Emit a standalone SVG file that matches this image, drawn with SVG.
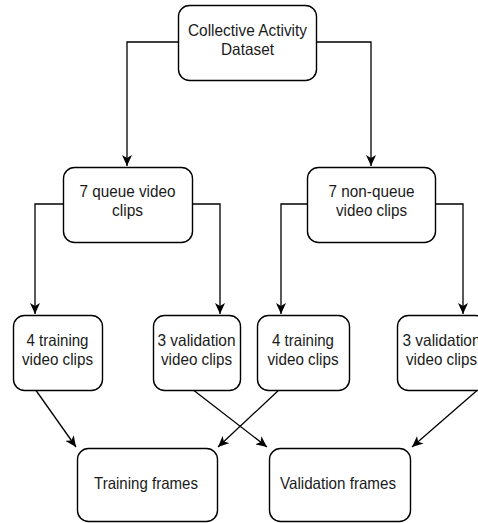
<svg xmlns="http://www.w3.org/2000/svg" width="478" height="523" viewBox="0 0 478 523">
  <style>
    .box { fill: #ffffff; stroke: #000000; stroke-width: 1.4; }
    .lbl { font-family: "Liberation Sans", Arial, sans-serif; font-size: 16.5px; fill: #1a1a1a; text-anchor: middle; }
    .edge { fill: none; stroke: #000000; stroke-width: 1.3; marker-end: url(#arrow); }
  </style>
  <defs>
    <marker id="arrow" markerUnits="userSpaceOnUse" markerWidth="12" markerHeight="10" refX="11" refY="5" orient="auto">
      <path d="M0,0 L11,5 L0,10 L3,5 z" fill="#000000"/>
    </marker>
  </defs>
  <rect width="478" height="523" fill="#ffffff"/>

  <!-- connectors -->
  <g id="connectors">
    <path class="edge" d="M178,42 H127 V166"/>
    <path class="edge" d="M316,42 H371 V166"/>
    <path class="edge" d="M63,204 H35 V314"/>
    <path class="edge" d="M192,204 H220 V314"/>
    <path class="edge" d="M307,204 H281 V314"/>
    <path class="edge" d="M435,204 H463 V314"/>
    <path class="edge" d="M35,389 L76,447"/>
    <path class="edge" d="M192,389 L267,447"/>
    <path class="edge" d="M280,389 L218,447"/>
    <path class="edge" d="M480,388 L412,447"/>
  </g>

  <!-- nodes (labels condensed to a narrow sans width) -->
  <g id="dataset">
    <rect class="box" x="178.5" y="5.5" width="138" height="75" rx="11"/>
    <text class="lbl" x="247.5" y="36" textLength="119" lengthAdjust="spacingAndGlyphs">Collective Activity</text>
    <text class="lbl" x="247.5" y="55" textLength="53" lengthAdjust="spacingAndGlyphs">Dataset</text>
  </g>
  <g id="queue">
    <rect class="box" x="63.5" y="167.5" width="129" height="75" rx="11"/>
    <text class="lbl" x="127.5" y="197" textLength="96" lengthAdjust="spacingAndGlyphs">7 queue video</text>
    <text class="lbl" x="127.5" y="216" textLength="31" lengthAdjust="spacingAndGlyphs">clips</text>
  </g>
  <g id="nonqueue">
    <rect class="box" x="307.5" y="167.5" width="128" height="75" rx="11"/>
    <text class="lbl" x="371.5" y="197" textLength="86" lengthAdjust="spacingAndGlyphs">7 non-queue</text>
    <text class="lbl" x="371.5" y="216" textLength="71" lengthAdjust="spacingAndGlyphs">video clips</text>
  </g>
  <g id="queue-training">
    <rect class="box" x="13.5" y="315.5" width="89" height="75" rx="11"/>
    <text class="lbl" x="57.5" y="346" textLength="62" lengthAdjust="spacingAndGlyphs">4 training</text>
    <text class="lbl" x="57.5" y="365" textLength="71" lengthAdjust="spacingAndGlyphs">video clips</text>
  </g>
  <g id="queue-validation">
    <rect class="box" x="153.5" y="315.5" width="87" height="75" rx="11"/>
    <text class="lbl" x="196.5" y="346" textLength="78" lengthAdjust="spacingAndGlyphs">3 validation</text>
    <text class="lbl" x="196.5" y="365" textLength="71" lengthAdjust="spacingAndGlyphs">video clips</text>
  </g>
  <g id="nonqueue-training">
    <rect class="box" x="257.5" y="315.5" width="92" height="75" rx="11"/>
    <text class="lbl" x="303" y="346" textLength="62" lengthAdjust="spacingAndGlyphs">4 training</text>
    <text class="lbl" x="303" y="365" textLength="71" lengthAdjust="spacingAndGlyphs">video clips</text>
  </g>
  <g id="nonqueue-validation">
    <rect class="box" x="397.5" y="315.5" width="89" height="75" rx="11"/>
    <text class="lbl" x="441.5" y="346" textLength="78" lengthAdjust="spacingAndGlyphs">3 validation</text>
    <text class="lbl" x="441.5" y="365" textLength="71" lengthAdjust="spacingAndGlyphs">video clips</text>
  </g>
  <g id="training-frames">
    <rect class="box" x="77.5" y="448.5" width="140" height="73" rx="11"/>
    <text class="lbl" x="146" y="489" textLength="104" lengthAdjust="spacingAndGlyphs">Training frames</text>
  </g>
  <g id="validation-frames">
    <rect class="box" x="269.5" y="448.5" width="141" height="73" rx="11"/>
    <text class="lbl" x="338" y="489" textLength="116" lengthAdjust="spacingAndGlyphs">Validation frames</text>
  </g>
</svg>
